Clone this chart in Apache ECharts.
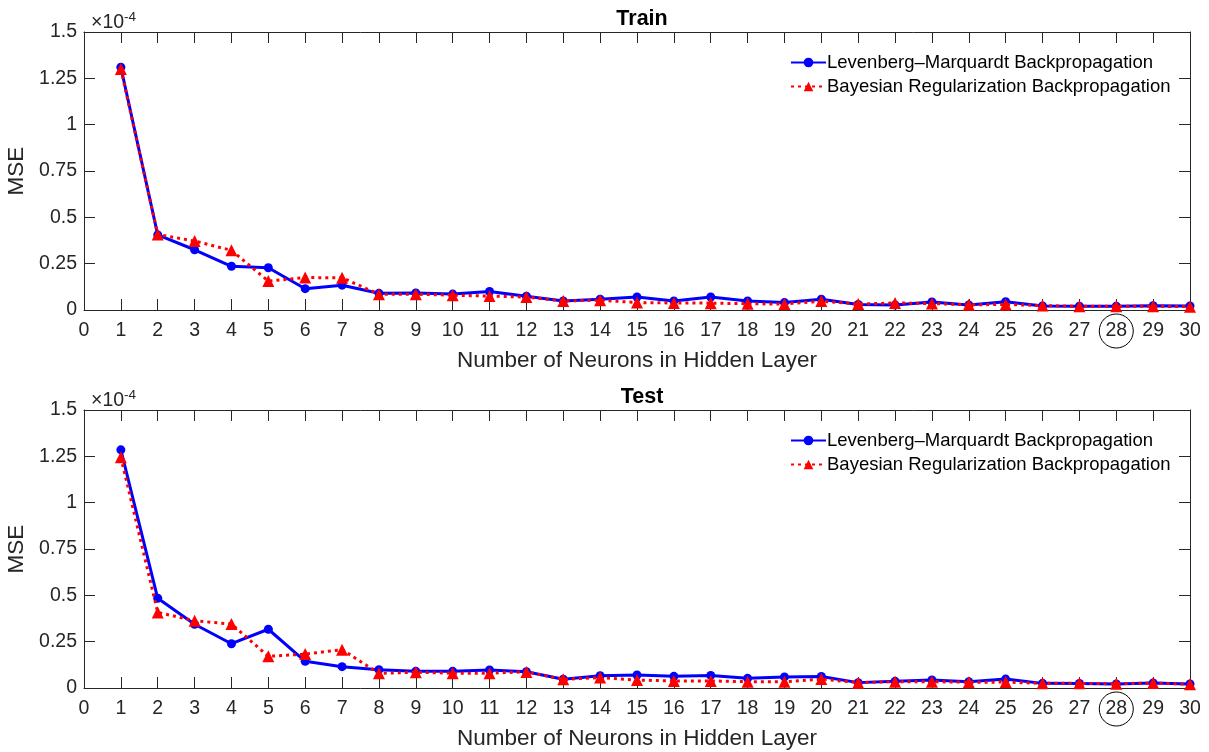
<!DOCTYPE html>
<html>
<head>
<meta charset="utf-8">
<script src="https://cdn.jsdelivr.net/npm/echarts@6/dist/echarts.min.js"></script>
<style>html,body{margin:0;padding:0;background:#fff;}#c{width:1209px;height:752px;}</style>
</head>
<body>
<div id="c"></div>
<script>
// Values in units of 1e-4 (axis shows ×10^-4)
const neurons = [1,2,3,4,5,6,7,8,9,10,11,12,13,14,15,16,17,18,19,20,21,22,23,24,25,26,27,28,29,30];
const trainLM = [1.31,0.405,0.325,0.236,0.228,0.115,0.134,0.09,0.092,0.086,0.10,0.074,0.049,0.058,0.07,0.049,0.07,0.049,0.04,0.058,0.03,0.027,0.043,0.027,0.045,0.022,0.02,0.02,0.023,0.022];
const trainBR = [1.30,0.408,0.372,0.322,0.156,0.175,0.174,0.085,0.085,0.08,0.075,0.07,0.049,0.053,0.04,0.038,0.037,0.034,0.032,0.048,0.032,0.038,0.035,0.028,0.03,0.024,0.02,0.02,0.02,0.018];
const testLM = [1.285,0.484,0.344,0.239,0.317,0.144,0.115,0.099,0.09,0.09,0.097,0.088,0.047,0.066,0.07,0.063,0.068,0.052,0.06,0.062,0.029,0.036,0.043,0.034,0.048,0.025,0.024,0.022,0.027,0.022];
const testBR = [1.245,0.408,0.363,0.345,0.171,0.183,0.207,0.079,0.085,0.08,0.08,0.087,0.047,0.056,0.043,0.038,0.038,0.034,0.034,0.048,0.029,0.034,0.034,0.031,0.032,0.025,0.025,0.023,0.027,0.02];
const yTicks = [0,0.25,0.5,0.75,1,1.25,1.5];
const titles = ['Train','Test'];
const seriesNames = ['Levenberg\u2013Marquardt Backpropagation','Bayesian Regularization Backpropagation'];
const circled = 28;

const FONT = 'Liberation Sans, Arial, Helvetica, sans-serif';
const TXT = '#262626';
const grids = [
  {left:84, top:32, width:1106, height:278, containLabel:false, outerBoundsMode:'none'},
  {left:84, top:410, width:1106, height:278, containLabel:false, outerBoundsMode:'none'}
];

function pairs(v){ return neurons.map((n,i)=>[n, v[i]]); }

const xAxis = [], yAxis = [], series = [], title = [], legend = [];
const sets = [[trainLM, trainBR],[testLM, testBR]];
const lblBox = {fontFamily:FONT, fontSize:19.5, color:TXT, width:34, height:34, lineHeight:34, align:'center', verticalAlign:'middle'};
grids.forEach((g, gi) => {
  const common = {gridIndex: gi, type:'value', min:0, max:30, interval:1,
    axisLine:{show:true, onZero:false, lineStyle:{color:TXT, width:1}},
    axisTick:{show:true, inside:true, length:11, lineStyle:{color:TXT, width:1}},
    splitLine:{show:false}};
  xAxis.push(Object.assign({}, common, {position:'bottom',
    name:'Number of Neurons in Hidden Layer', nameLocation:'middle', nameGap:38,
    nameTextStyle:{fontFamily:FONT, fontSize:22.5, color:TXT},
    axisLabel:{margin:4, fontFamily:FONT, fontSize:19.5, color:TXT,
      formatter: v => v === circled ? '{c|' + v + '}' : '{n|' + v + '}',
      rich:{n:Object.assign({}, lblBox),
            c:Object.assign({}, lblBox, {borderColor:'#000', borderWidth:1, borderRadius:17})}}}));
  xAxis.push(Object.assign({}, common, {position:'top', axisLabel:{show:false}}));
  const ycommon = {gridIndex: gi, type:'value', min:yTicks[0], max:yTicks[yTicks.length-1], interval:0.25,
    axisLine:{show:true, onZero:false, lineStyle:{color:TXT, width:1}},
    axisTick:{show:true, inside:true, length:11, lineStyle:{color:TXT, width:1}},
    splitLine:{show:false}};
  yAxis.push(Object.assign({}, ycommon, {position:'left', name:'MSE', nameLocation:'middle', nameGap:53,
    nameTextStyle:{fontFamily:FONT, fontSize:22.5, color:TXT},
    axisLabel:{margin:7, fontFamily:FONT, fontSize:19.5, color:TXT}}));
  yAxis.push(Object.assign({}, ycommon, {position:'right', axisLabel:{show:false}}));

  series.push({name:seriesNames[0], type:'line', xAxisIndex:gi*2, yAxisIndex:gi*2,
    data:pairs(sets[gi][0]), symbol:'circle', symbolSize:9,
    lineStyle:{color:'#0000ff', width:3}, itemStyle:{color:'#0000ff'}, z:2, animation:false});
  series.push({name:seriesNames[1], type:'line', xAxisIndex:gi*2, yAxisIndex:gi*2,
    data:pairs(sets[gi][1]), symbol:'triangle', symbolSize:12,
    lineStyle:{color:'#ff0000', width:3, type:[3,4]}, itemStyle:{color:'#ff0000'}, z:3, animation:false});

  title.push({text:titles[gi], left:637, textAlign:'center', top:g.top-29,
    textStyle:{fontFamily:FONT, fontSize:21.5, fontWeight:'bold', color:'#000'}});
  title.push({text:'\u00d710{s|-4}', left:86, top:g.top-27,
    textStyle:{fontFamily:FONT, fontSize:19.5, fontWeight:'normal', color:TXT,
      rich:{s:{fontFamily:FONT, fontSize:13.5, color:TXT, verticalAlign:'top', padding:[0,0,12,0]}}}});
  legend.push({orient:'vertical', left:785, top:g.top+15, itemWidth:35, itemHeight:12, itemGap:3,
    data:seriesNames, textStyle:{fontFamily:FONT, fontSize:18.5, lineHeight:21, color:'#000', padding:[0,0,0,-4]}});
});

const chart = echarts.init(document.getElementById('c'), null, {renderer:'canvas'});
chart.setOption({animation:false, backgroundColor:'#fff', grid:grids, xAxis, yAxis, series, title, legend});
</script>
</body>
</html>
